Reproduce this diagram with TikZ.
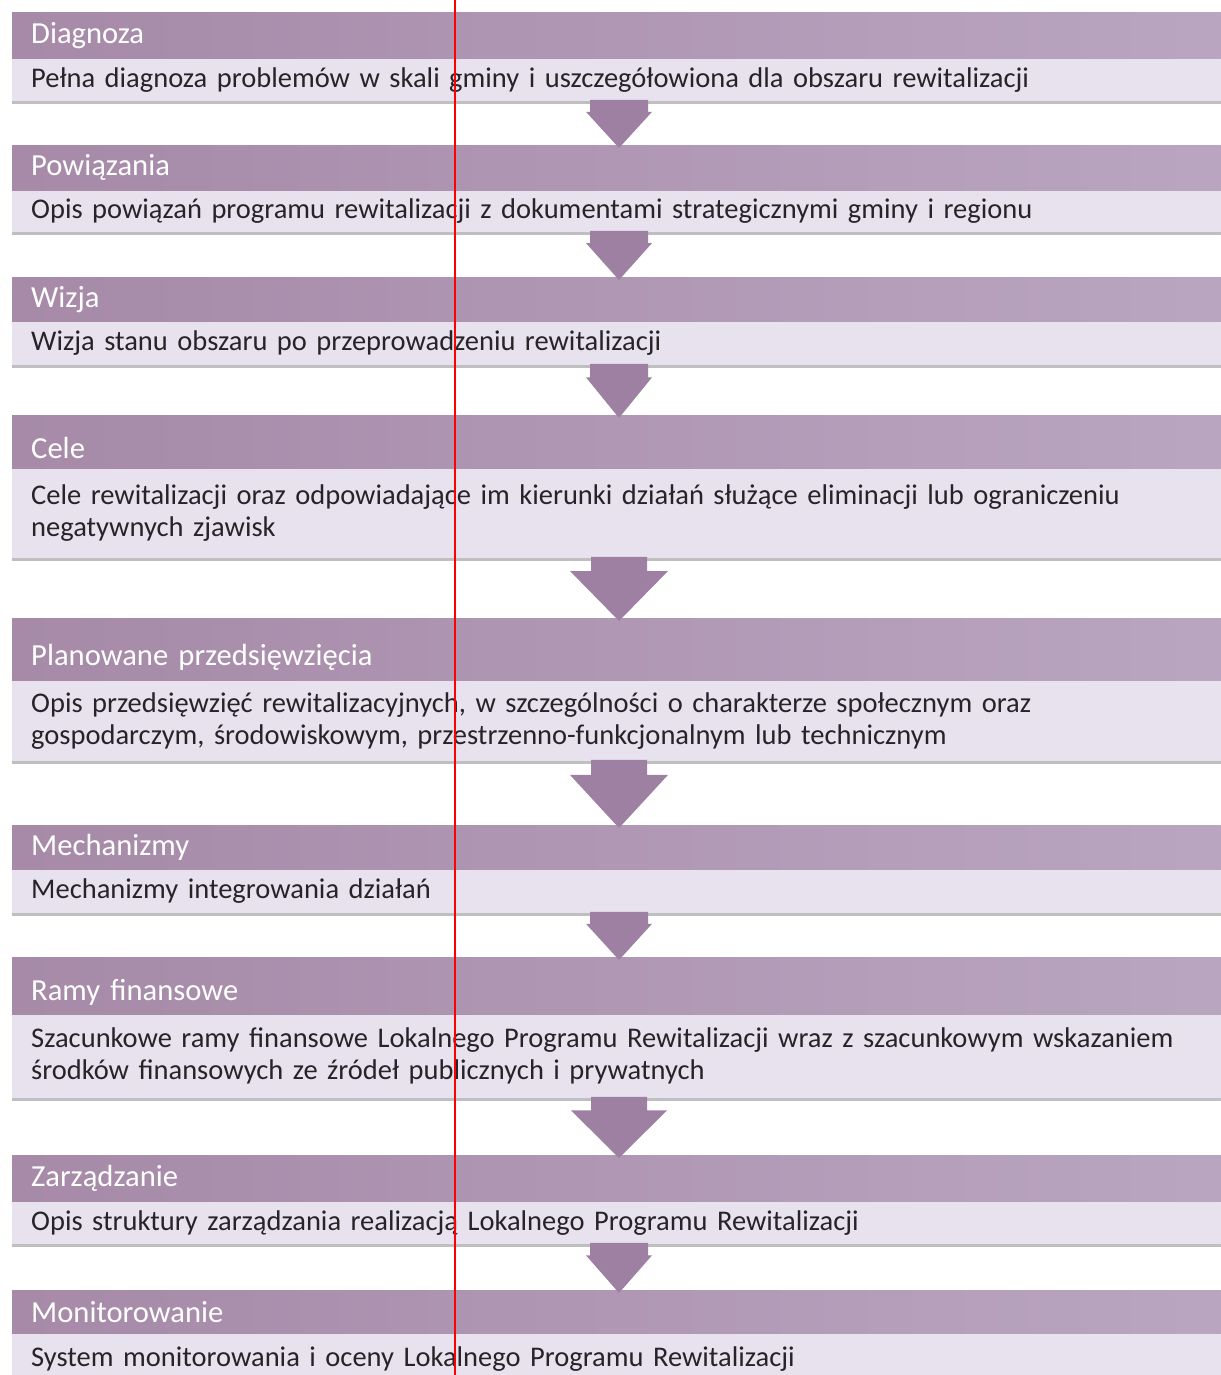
\documentclass[tikz,border=0pt]{standalone}
\usepackage{fontspec}
\setmainfont{Carlito}
\usepackage{tikz}
\usetikzlibrary{positioning, calc, shadows}

\definecolor{hdrleft}{RGB}{166,138,168}
\definecolor{hdrright}{RGB}{186,166,193}
\definecolor{bodyc}{RGB}{231,226,238}
\definecolor{arrowc}{RGB}{158,128,162}
\definecolor{textc}{RGB}{38,36,40}

\tikzset{
  hdr/.style={anchor=north west, rectangle, left color=hdrleft, right color=hdrright,
    text=white, font=\fontsize{30.6}{36}\selectfont, text width=1190pt, align=left,
    inner xsep=19pt, inner ysep=0pt, minimum width=1228pt},
  tallhdr/.style={hdr, text height=#1, text depth=0pt},
  bodybox/.style={rectangle, fill=bodyc, text=textc, font=\fontsize{28.5}{32}\selectfont,
    text width=1190pt, align=left, inner xsep=18pt, inner ysep=0pt, minimum width=1228pt,
    drop shadow={shadow xshift=0pt, shadow yshift=-3pt, opacity=.45, fill=black!55}},
  flow/.style={fill=arrowc},
  scanline/.style={draw=red, line width=1.1pt}
}

\begin{document}
\begin{tikzpicture}[x=1pt, y=-1pt]
\useasboundingbox[fill=white] (0,0) rectangle (1220,1375);

\node[hdr, minimum height=46pt] (h1) at (12,12) {Diagnoza};
\node[bodybox, minimum height=42pt, below right=0pt and 0pt of h1.south west] (b1)
  {Pełna diagnoza problemów w skali gminy i uszczegółowiona dla obszaru rewitalizacji};

\node[hdr, minimum height=45pt] (h2) at (12,145) {Powiązania};
\node[bodybox, minimum height=41pt, below right=0pt and 0pt of h2.south west] (b2)
  {Opis powiązań programu rewitalizacji z dokumentami strategicznymi gminy i regionu};

\node[hdr, minimum height=44pt] (h3) at (12,277) {Wizja};
\node[bodybox, minimum height=43pt, below right=0pt and 0pt of h3.south west] (b3)
  {Wizja stanu obszaru po przeprowadzeniu rewitalizacji};

\node[tallhdr=33pt, minimum height=53pt] (h4) at (12,415) {Cele};
\node[bodybox, minimum height=89pt, below right=0pt and 0pt of h4.south west] (b4)
  {Cele rewitalizacji oraz odpowiadające im kierunki działań służące eliminacji lub ograniczeniu\\
   negatywnych zjawisk};

\node[tallhdr=32pt, minimum height=62pt] (h5) at (12,618) {Planowane przedsięwzięcia};
\node[bodybox, minimum height=80pt, below right=0pt and 0pt of h5.south west] (b5)
  {Opis przedsięwzięć rewitalizacyjnych, w szczególności o charakterze społecznym oraz\\
   gospodarczym, środowiskowym, przestrzenno-funkcjonalnym lub technicznym};

\node[hdr, minimum height=44pt] (h6) at (12,825) {Mechanizmy};
\node[bodybox, minimum height=43pt, below right=0pt and 0pt of h6.south west] (b6)
  {Mechanizmy integrowania działań};

\node[tallhdr=29pt, minimum height=57pt] (h7) at (12,957) {Ramy finansowe};
\node[bodybox, minimum height=83pt, below right=0pt and 0pt of h7.south west] (b7)
  {Szacunkowe ramy finansowe Lokalnego Programu Rewitalizacji wraz z szacunkowym wskazaniem\\
   środków finansowych ze źródeł publicznych i prywatnych};

\node[hdr, minimum height=46pt] (h8) at (12,1155) {Zarządzanie};
\node[bodybox, minimum height=42pt, below right=0pt and 0pt of h8.south west] (b8)
  {Opis struktury zarządzania realizacją Lokalnego Programu Rewitalizacji};

\node[hdr, minimum height=43pt] (h9) at (12,1290) {Monitorowanie};
\node[bodybox, minimum height=50pt, below right=0pt and 0pt of h9.south west] (b9)
  {System monitorowania i oceny Lokalnego Programu Rewitalizacji};

% arrows between the boxes
\coordinate (ax) at (619,0);
\foreach \a/\b/\ws/\wh/\f in {b1/h2/29/33/.25, b2/h3/29/33/.25, b3/h4/29/33/.25,
    b4/h5/28/49/.22, b5/h6/28/49/.22, b6/h7/29/33/.25, b7/h8/28/48/.22, b8/h9/29/33/.25}
  \fill[flow] let \p1=(\a.south -| ax), \p2=(\b.north -| ax), \n1={\f*(\y1-\y2)} in
    ({\x1-\ws pt},{\y1+1pt}) -- ({\x1+\ws pt},{\y1+1pt}) -- ({\x1+\ws pt},{\y1-\n1})
    -- ({\x1+\wh pt},{\y1-\n1}) -- ({\x1},{\y2-3pt}) -- ({\x1-\wh pt},{\y1-\n1})
    -- ({\x1-\ws pt},{\y1-\n1}) -- cycle;

\draw[scanline] (455,0) -- (455,1375);

\end{tikzpicture}
\end{document}
